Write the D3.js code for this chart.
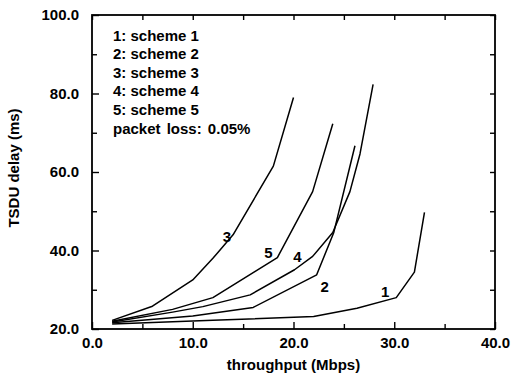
<!DOCTYPE html>
<html>
<head>
<meta charset="utf-8">
<script src="https://cdn.jsdelivr.net/npm/d3@7"></script>
<style>
  body { margin: 0; background: #fff; }
  text { font-family: Arial, "Liberation Sans", Helvetica, sans-serif; font-weight: bold; fill: #000; }
</style>
</head>
<body>
<svg id="chart" width="514" height="374"></svg>
<script>
// curve data: [throughput Mbps, delay ms]
const scheme1 = [[2, 21.3], [12, 22.2], [22, 23.2], [26.3, 25.3], [30.2, 28], [32, 34.5], [33, 49.7]];
const scheme2 = [[2, 21.6], [10, 23.3], [16, 25.5], [22.3, 33.8], [24, 44.6], [26.1, 66.7]];
const scheme3 = [[2, 22.2], [6, 25.8], [10, 32.5], [12, 38], [14, 44], [18, 61.5], [20, 79]];
const scheme4 = [[2, 21.8], [8, 24.3], [11, 25.7], [15.7, 28.7], [20.1, 35.1], [21.9, 38.5], [23.9, 44.6], [25.6, 55], [26.6, 64.6], [27.9, 82.3]];
const scheme5 = [[2, 22], [8, 25], [12, 28], [18.4, 38.2], [21.9, 55], [23.9, 72.3]];

const curveNames = ['1', '2', '3', '4', '5'];
// where the curve number sits, in data units
const curveLabelAt = [[29.1, 29.5], [23.1, 30.8], [13.4, 43.6], [20.4, 38.5], [17.5, 39.5]];

const legendLines = ['1: scheme 1', '2: scheme 2', '3: scheme 3', '4: scheme 4', '5: scheme 5'];
const noteText = 'packet loss: 0.05%';

const xTicks = [0, 10, 20, 30, 40];
const xMinor = [5, 15, 25, 35];
const yTicks = [20, 40, 60, 80, 100];
const yMinor = [30, 50, 70, 90];

const margin = { top: 15, right: 19, bottom: 45, left: 92 };
const W = 514, H = 374;
const w = W - margin.left - margin.right;
const h = H - margin.top - margin.bottom;

const svg = d3.select('#chart');
const g = svg.append('g').attr('transform', `translate(${margin.left},${margin.top})`);

const x = d3.scaleLinear().domain([0, 40]).range([0, w]);
const y = d3.scaleLinear().domain([20, 100]).range([h, 0]);

// inward ticks on all four sides
const fmt = d3.format('.1f');
g.append('g').attr('transform', `translate(0,${h})`)
    .call(d3.axisBottom(x).tickValues(xTicks).tickFormat(fmt).tickSizeInner(-7).tickSizeOuter(0).tickPadding(8))
    .call(a => a.select('.domain').remove());
g.append('g').attr('transform', `translate(0,${h})`)
    .call(d3.axisBottom(x).tickValues(xMinor).tickFormat('').tickSizeInner(-5).tickSizeOuter(0))
    .call(a => a.select('.domain').remove());
g.append('g')
    .call(d3.axisLeft(y).tickValues(yTicks).tickFormat(fmt).tickSizeInner(-7).tickSizeOuter(0).tickPadding(13))
    .call(a => a.select('.domain').remove());
g.append('g')
    .call(d3.axisLeft(y).tickValues(yMinor).tickFormat('').tickSizeInner(-5).tickSizeOuter(0))
    .call(a => a.select('.domain').remove());
g.append('g')
    .call(d3.axisTop(x).tickValues(xTicks.concat(xMinor)).tickFormat('').tickSizeInner(-5).tickSizeOuter(0))
    .call(a => a.select('.domain').remove());
g.append('g').attr('transform', `translate(${w},0)`)
    .call(d3.axisRight(y).tickValues(yTicks.concat(yMinor)).tickFormat('').tickSizeInner(-5).tickSizeOuter(0))
    .call(a => a.select('.domain').remove());

g.selectAll('.tick line').attr('stroke', '#000').attr('stroke-width', 1.4);
g.selectAll('.tick text').style('font-size', '15px').attr('fill', '#000');

g.append('rect')
    .attr('width', w).attr('height', h)
    .attr('fill', 'none').attr('stroke', '#000').attr('stroke-width', 1.8);

const line = d3.line().x(d => x(d[0])).y(d => y(d[1]));
const allCurves = [scheme1, scheme2, scheme3, scheme4, scheme5];
g.selectAll('path.curve')
    .data(allCurves)
    .join('path')
    .attr('class', 'curve')
    .attr('d', line)
    .attr('fill', 'none')
    .attr('stroke', '#000')
    .attr('stroke-width', 1.5)
    .attr('stroke-linejoin', 'round');

g.selectAll('text.clabel')
    .data(curveNames)
    .join('text')
    .attr('class', 'clabel')
    .attr('x', (d, i) => x(curveLabelAt[i][0]))
    .attr('y', (d, i) => y(curveLabelAt[i][1]))
    .attr('text-anchor', 'middle')
    .attr('dominant-baseline', 'central')
    .style('font-size', '15px')
    .text(d => d);

// legend block
const leg = g.append('g').attr('transform', 'translate(21,20)');
leg.selectAll('text')
    .data(legendLines.concat([noteText]))
    .join('text')
    .attr('x', 0)
    .attr('y', (d, i) => i * 18.6 + (i === legendLines.length ? 0 : 0))
    .attr('dominant-baseline', 'central')
    .style('font-size', '15px')
    .style('word-spacing', (d, i) => i === legendLines.length ? '2px' : '0px')
    .text(d => d);

svg.append('text')
    .attr('x', margin.left + w / 2)
    .attr('y', 364)
    .attr('text-anchor', 'middle')
    .attr('dominant-baseline', 'central')
    .style('font-size', '15px')
    .text('throughput (Mbps)');

svg.append('text')
    .attr('transform', `translate(13,${margin.top + h / 2 - 4}) rotate(-90)`)
    .attr('text-anchor', 'middle')
    .attr('dominant-baseline', 'central')
    .style('font-size', '15px')
    .text('TSDU delay (ms)');
</script>
</body>
</html>
